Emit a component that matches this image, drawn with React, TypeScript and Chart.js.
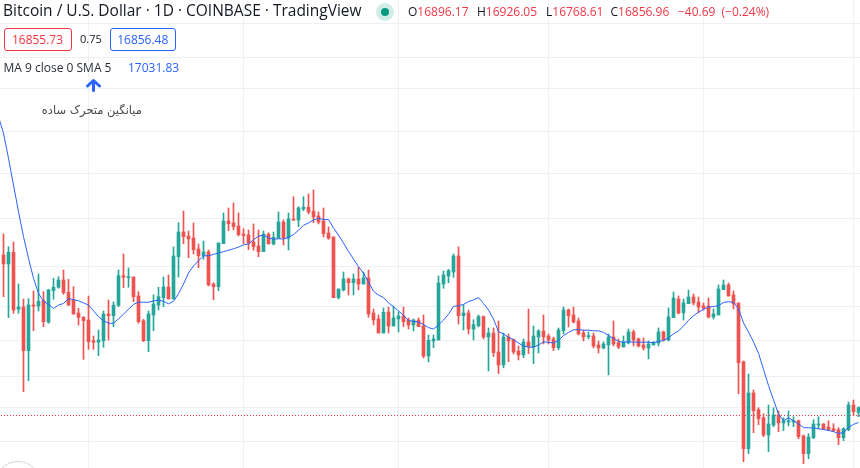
import React, { useEffect, useRef } from "react";
import { Chart, registerables } from "chart.js";

Chart.register(...registerables);

// BTC/USD daily candles, 2022-06-14 .. 2022-12-02
const opens = [
  22433, 22075, 22541, 20359, 20443, 18909, 20517, 20480, 20674, 19893,
  21047, 21176, 21453, 20987, 20700, 20225, 20071, 19974, 19249, 19195,
  19249, 20189, 20128, 20506, 21619, 21542, 21569, 20849, 19949, 19249,
  20154, 20517, 20786, 21187, 20737, 22365, 23373, 23207, 23124, 22674,
  22405, 22553, 21301, 21198, 22890, 23837, 23752, 23625, 23290, 23249,
  22959, 22796, 22565, 23278, 22878, 23124, 23794, 23112, 23922, 23879,
  24353, 24427, 24253, 24051, 23837, 23332, 23166, 20786, 21073, 21492,
  21350, 21492, 21301, 21530, 20225, 20010, 19516, 20261, 19761, 20010,
  20118, 19974, 19797, 19974, 19761, 18731, 19239, 19273, 21301, 21607,
  21762, 22393, 20128, 20225, 19655, 19771, 20094, 19377, 19516, 18865,
  18432, 19377, 19283, 18899, 18765, 19205, 19044, 19377, 19585, 19412,
  19308, 19010, 19596, 20333, 20154, 19939, 19516, 19388, 19412, 19103,
  19000, 19103, 19377, 19181, 19034, 19171, 19551, 19308, 19103, 19000,
  19103, 19171, 19551, 19273, 20057, 20737, 20234, 20564, 20811, 20627,
  20480, 20480, 20082, 20154, 21084, 21263, 20887, 20590, 18541, 15873,
  17533, 17017, 16776, 16266, 16559, 16857, 16618, 16648, 16648, 16686,
  16237, 15732, 16188, 16559, 16589, 16500, 16449, 16420, 16188, 16420,
  17161, 16938,
];
const highs = [
  23290, 22768, 22959, 21301, 20737, 20749, 21036, 21685, 21010, 21100,
  21519, 21580, 21839, 21480, 21198, 20395, 20094, 20849, 19412, 19620,
  20297, 20700, 20627, 21839, 22473, 21918, 21569, 21010, 19999, 20297,
  20887, 21176, 21569, 21646, 22755, 23765, 24266, 23415, 23752, 22878,
  23000, 22633, 21350, 22919, 24180, 24397, 24616, 24180, 23511, 23456,
  23710, 23456, 23415, 23344, 23373, 24223, 23879, 24180, 24894, 24454,
  24894, 25015, 25193, 24223, 24397, 23583, 23166, 21111, 21762, 21530,
  21685, 21945, 21762, 21839, 20370, 20154, 20406, 20443, 20480, 20261,
  20443, 20046, 20010, 20046, 20154, 19446, 19446, 21607, 21801, 21866,
  22473, 22755, 20528, 20333, 19985, 20154, 20118, 19691, 19691, 19939,
  19516, 19481, 19308, 19068, 19308, 20370, 19761, 19631, 20154, 19481,
  19377, 19691, 20443, 20370, 20443, 20046, 19620, 19551, 19516, 19239,
  19205, 19481, 19939, 19308, 19412, 19655, 19620, 19342, 19342, 19239,
  19205, 19691, 19585, 20406, 20998, 20849, 20737, 21073, 20924, 20811,
  20590, 20774, 20370, 21263, 21453, 21339, 21036, 20590, 18564, 18138,
  17627, 17079, 16897, 17161, 17079, 16978, 16776, 16978, 16806, 16707,
  16266, 16304, 16716, 16806, 16598, 16686, 16598, 16479, 16479, 17254,
  17315, 17109,
];
const lows = [
  20823, 20057, 20215, 20215, 17574, 17922, 19596, 20297, 19737, 19857,
  20726, 21138, 20913, 20491, 20164, 19797, 18620, 18956, 18956, 18741,
  19024, 19273, 19737, 20455, 21160, 21176, 20638, 19857, 19215, 18875,
  19596, 20333, 20455, 20737, 20737, 21569, 22890, 22325, 22473, 21930,
  22261, 21225, 20711, 21047, 22890, 23427, 23456, 23207, 22890, 22645,
  22621, 22365, 22565, 22866, 22837, 23124, 22837, 22633, 23849, 23596,
  24279, 24137, 23765, 23710, 23166, 23070, 20786, 20737, 21036, 20887,
  20887, 21073, 21301, 20071, 19797, 19516, 19516, 19516, 19761, 19551,
  19737, 19655, 19585, 19737, 18664, 18531, 19010, 19273, 21138, 21350,
  21553, 19832, 19620, 19481, 19273, 19726, 19308, 18235, 18708, 18147,
  18343, 18541, 18798, 18597, 18674, 18808, 18475, 18832, 19137, 19137,
  18909, 18942, 19481, 19726, 19868, 19446, 19239, 19308, 19000, 18832,
  18966, 18106, 19068, 18976, 19034, 19137, 19068, 19034, 18932, 18631,
  19103, 19068, 19239, 19239, 20057, 20189, 19974, 20564, 20517, 20225,
  20333, 20046, 20010, 20154, 21084, 20849, 20370, 17512, 15508, 15732,
  16333, 16568, 16217, 15788, 16509, 16362, 16391, 16529, 16509, 16159,
  15453, 15592, 16159, 16449, 16420, 16391, 16362, 15987, 16101, 16391,
  16836, 16806,
];
const closes = [
  22075, 22541, 20333, 20443, 18909, 20517, 20480, 20652, 19914, 21073,
  21176, 21453, 20972, 20517, 20200, 20071, 19949, 19215, 19195, 19273,
  20189, 20128, 20506, 21619, 21557, 21569, 20823, 19914, 19249, 20189,
  20553, 20823, 21187, 20737, 22393, 23373, 23178, 23083, 22645, 22405,
  22553, 21263, 21198, 22919, 23837, 23722, 23596, 23261, 23228, 22906,
  22768, 22565, 23278, 22890, 23153, 23794, 23124, 23922, 23879, 24397,
  24427, 24223, 24008, 23794, 23303, 23112, 20786, 21111, 21492, 21350,
  21492, 21301, 21530, 20189, 19974, 19516, 20250, 19761, 20046, 20118,
  19914, 19797, 19974, 19737, 18731, 19263, 19308, 21339, 21646, 21812,
  22393, 20128, 20225, 19655, 19807, 20094, 19377, 19516, 18842, 18432,
  19377, 19239, 18865, 18765, 19205, 19044, 19412, 19585, 19377, 19273,
  19010, 19620, 20333, 20128, 19903, 19481, 19377, 19412, 19068, 19000,
  19137, 19377, 19137, 19034, 19205, 19551, 19273, 19068, 19000, 19137,
  19205, 19551, 19273, 20082, 20774, 20225, 20590, 20811, 20590, 20443,
  20406, 20082, 20189, 21111, 21263, 20849, 20553, 18508, 15873, 17533,
  16987, 16746, 16266, 16589, 16857, 16618, 16686, 16686, 16686, 16217,
  15732, 16208, 16589, 16589, 16449, 16420, 16391, 16188, 16449, 17161,
  16957, 17079,
];

// MA(9) values for day -1 .. day 7 (they depend on closes left of the window)
const maLead = [28710, 27877, 26661, 25419, 24236, 23177, 22301, 21518, 20950];
const maLength = 9;

// month starts (Jul 1, Aug 1, Sep 1, Oct 1, Nov 1, Dec 1) as candle indexes
const monthStarts = [17, 48, 79, 109, 140, 170];
// horizontal grid levels of the log price scale
const gridPrices = [16078, 17084, 18057, 19256, 20461, 21976, 23943, 25946, 27967, 30198, 31918, 33916];
const priceMin = 15335;
const priceMax = 35369;
const lastPrice = 16856.96;

const UP = "#26a69a";
const DOWN = "#ef5350";
const GRID = "#eff0f3";

const priceLinePlugin = {
  id: "priceLine",
  beforeDatasetsDraw(chart: any) {
    const { ctx, chartArea, scales } = chart;
    const py = Math.floor(scales.y.getPixelForValue(lastPrice)) + 0.5;
    ctx.save();
    ctx.strokeStyle = "#f23645";
    ctx.lineWidth = 1;
    ctx.setLineDash([1, 2]);
    ctx.beginPath();
    ctx.moveTo(chartArea.left + 1, py);
    ctx.lineTo(chartArea.right, py);
    ctx.stroke();
    ctx.restore();
  },
};

const T = (p: any) => (
  <div
    style={{
      position: "absolute",
      left: p.x,
      top: p.top,
      fontSize: p.size,
      lineHeight: `${p.size}px`,
      color: p.color,
      whiteSpace: "nowrap",
      fontFamily: p.family || '"Open Sans", sans-serif',
      direction: p.dir || "ltr",
    }}
  >
    {p.children}
  </div>
);

const Box = (p: any) => (
  <div
    style={{
      position: "absolute",
      left: p.x,
      top: 28,
      width: p.w,
      height: 23,
      boxSizing: "border-box",
      border: `1px solid ${p.color}`,
      borderRadius: 3,
      color: p.color,
      fontSize: 12,
      lineHeight: "12px",
      display: "flex",
      alignItems: "center",
      justifyContent: "center",
      background: "#fff",
    }}
  >
    {p.children}
  </div>
);

export default function App() {
  const ref = useRef<HTMLCanvasElement | null>(null);

  useEffect(() => {
    document.body.style.margin = "0";
    const colors = closes.map((c, i) => (c >= opens[i] ? UP : DOWN));
    const wicks = closes.map((_, i) => ({ x: i, y: [lows[i], highs[i]] }));
    const bodies = closes.map((c, i) => ({ x: i, y: [opens[i], c] }));
    const ma = closes.map((_, i) => {
      if (i < maLength - 1) return maLead[i + 1];
      let s = 0;
      for (let k = i - maLength + 1; k <= i; k++) s += closes[k];
      return s / maLength;
    });
    const maPoints = [{ x: -1, y: maLead[0] }, ...ma.map((v, i) => ({ x: i, y: v }))];

    const chart = new Chart(ref.current as HTMLCanvasElement, {
      type: "bar",
      data: {
        datasets: [
          {
            type: "line",
            data: maPoints,
            borderColor: "#2962ff",
            borderWidth: 1,
            pointRadius: 0,
            tension: 0,
            order: 0,
          } as any,
          {
            type: "bar",
            data: bodies,
            backgroundColor: colors,
            barThickness: 3,
            minBarLength: 1,
            grouped: false,
            borderWidth: 0,
            order: 1,
          } as any,
          {
            type: "bar",
            data: wicks,
            backgroundColor: colors,
            barThickness: 1,
            grouped: false,
            borderWidth: 0,
            order: 2,
          } as any,
        ],
      },
      options: {
        animation: false,
        responsive: false,
        maintainAspectRatio: false,
        layout: { padding: 0 },
        plugins: { legend: { display: false }, tooltip: { enabled: false } },
        scales: {
          x: {
            type: "linear",
            min: -0.7,
            max: 171.3,
            offset: false,
            ticks: { display: false },
            grid: { color: GRID, drawTicks: false, offset: false },
            border: { display: false },
            afterBuildTicks: (s: any) => {
              s.ticks = monthStarts.map((v) => ({ value: v }));
            },
          },
          y: {
            type: "logarithmic",
            min: priceMin,
            max: priceMax,
            ticks: { display: false },
            grid: { color: GRID, drawTicks: false },
            border: { display: false },
            afterBuildTicks: (s: any) => {
              s.ticks = gridPrices.map((v) => ({ value: v }));
            },
          },
        },
      } as any,
      plugins: [priceLinePlugin],
    });
    return () => chart.destroy();
  }, []);

  return (
    <div
      style={{
        position: "relative",
        width: 860,
        height: 468,
        overflow: "hidden",
        background: "#fff",
        fontFamily: '"Open Sans", sans-serif',
      }}
    >
      <canvas ref={ref} width={860} height={468} style={{ display: "block", width: 860, height: 468 }} />

      <T x={3} top={3} size={15.5} color="#131722">Bitcoin / U.S. Dollar · 1D · COINBASE · TradingView</T>
      <div style={{ position: "absolute", left: 376, top: 3, width: 18, height: 18, borderRadius: "50%", background: "rgba(8,153,129,0.18)" }} />
      <div style={{ position: "absolute", left: 381, top: 8, width: 8, height: 8, borderRadius: "50%", background: "#089981" }} />

      <T x={408} top={6} size={12} color="#131722">O<span style={{ color: "#f23645" }}>16896.17</span></T>
      <T x={477} top={6} size={12} color="#131722">H<span style={{ color: "#f23645" }}>16926.05</span></T>
      <T x={546} top={6} size={12} color="#131722">L<span style={{ color: "#f23645" }}>16768.61</span></T>
      <T x={610.5} top={6} size={12} color="#131722">C<span style={{ color: "#f23645" }}>16856.96</span></T>
      <T x={678} top={6} size={12} color="#f23645">−40.69</T>
      <T x={721.5} top={6} size={12} color="#f23645">(−0.24%)</T>

      <Box x={3.5} w={68} color="#f23645">16855.73</Box>
      <T x={80} top={33} size={11} color="#131722">0.75</T>
      <Box x={109.5} w={66.5} color="#2962ff">16856.48</Box>

      <T x={3.5} top={62} size={12} color="#2a2e39">MA 9 close 0 SMA 5</T>
      <T x={128} top={62} size={12} color="#2962ff">17031.83</T>

      <svg width={200} height={100} style={{ position: "absolute", left: 0, top: 0 }}>
        <path d="M87.5 86 L93.5 80.5 L99.5 86" stroke="#2962ff" strokeWidth={3} fill="none" strokeLinecap="round" strokeLinejoin="round" />
        <line x1={93.5} y1={81.5} x2={93.5} y2={90.5} stroke="#2962ff" strokeWidth={3} strokeLinecap="round" />
      </svg>
      <div
        style={{
          position: "absolute",
          left: 2,
          width: 140,
          top: 105,
          fontSize: 11.5,
          lineHeight: "11px",
          color: "#4a4a4a",
          textAlign: "right",
          direction: "rtl",
          fontFamily: '"DejaVu Sans", sans-serif',
          whiteSpace: "nowrap",
        }}
      >
        میانگین متحرک ساده
      </div>

      <div
        style={{
          position: "absolute",
          left: -5,
          top: 461,
          width: 46,
          height: 46,
          boxSizing: "border-box",
          borderRadius: "50%",
          border: "1px solid #d1d4dc",
          background: "rgba(255,255,255,0.85)",
        }}
      />
    </div>
  );
}
